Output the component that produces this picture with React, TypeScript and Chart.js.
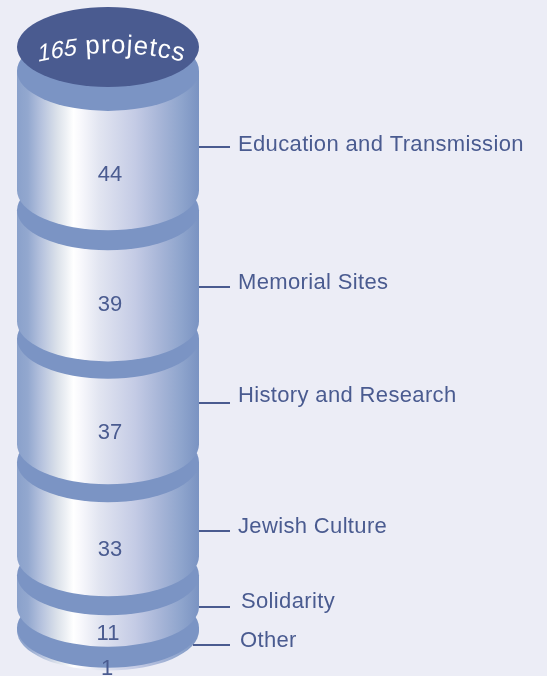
import React, { useEffect, useRef } from "react";
import { Chart, registerables } from "chart.js";

Chart.register(...registerables);

const categories = ["Projects"];
const segmentLabels = ["Education and Transmission", "Memorial Sites", "History and Research", "Jewish Culture", "Solidarity", "Other"];
const segmentValues = [44, 39, 37, 33, 11, 1];
// spacer above each segment, in the same axis units (the visible rim between segments)
const rimValues = [36.8, 7.0, 6.1, 6.3, 6.7, 7.4];
const totalLabelNumber = "165";
const totalLabelWord = " projetcs";

const WIDTH = 547, HEIGHT = 676;
const PX_PER_UNIT = 2.85;
const RY = 40, RX = 91;
const BG = "#ecedf6", TEXT = "#4a5b90", RIM = "#7b94c4", CAP = "#4a5b90";
const FONT = '"Liberation Sans", Arial, sans-serif';

const labelLayout = [
  { x: 238, y: 145, lineY: 147, lineX: 199 },
  { x: 238, y: 283, lineY: 287, lineX: 199 },
  { x: 238, y: 396, lineY: 403, lineX: 199 },
  { x: 238, y: 527, lineY: 531, lineX: 199 },
  { x: 241, y: 602, lineY: 607, lineX: 199 },
  { x: 240, y: 641, lineY: 645, lineX: 193 },
];
const valueLayout = [175, 305, 433, 550, 634, 669];
const valueX = [110, 110, 110, 110, 108, 107];
const firstRimDrop = 6;
const capCenterY = 47;

function sideGradient(ctx: CanvasRenderingContext2D, left: number, w: number) {
  const g = ctx.createLinearGradient(left, 0, left + w, 0);
  const stops: [number, string][] = [
    [0, "#8aa1cb"], [0.06, "#93a8cf"], [0.13, "#b4c1dd"], [0.22, "#dbe1ea"], [0.27, "#eef1f5"],
    [0.31, "#ffffff"], [0.35, "#f8f8fc"], [0.45, "#e2e5f1"], [0.65, "#c4cbe5"], [0.8, "#a4b3d6"],
    [0.9, "#8fa5cd"], [1, "#7a93c2"],
  ];
  stops.forEach(([o, c]) => g.addColorStop(o, c));
  return g;
}

const cylinderPlugin = {
  id: "cylinder",
  beforeDatasetDraw(chart: any, args: any) {
    const ds = chart.data.datasets[args.index];
    if (ds.rim) return false;
    const ctx: CanvasRenderingContext2D = chart.ctx;
    const el = args.meta.data[0];
    const cx = el.x;
    const rx = el.width / 2;
    const top = Math.min(el.y, el.base) + (args.index === 1 ? firstRimDrop : 0);
    const bottom = Math.max(el.y, el.base);
    const bandC = top - RY;
    const botC = bottom - RY;
    ctx.save();
    ctx.fillStyle = sideGradient(ctx, cx - rx, rx * 2);
    ctx.beginPath();
    ctx.moveTo(cx - rx, bandC);
    ctx.lineTo(cx + rx, bandC);
    ctx.lineTo(cx + rx, botC);
    ctx.ellipse(cx, botC, rx, RY, 0, 0, Math.PI);
    ctx.closePath();
    ctx.fill();
    ctx.fillStyle = RIM;
    ctx.beginPath();
    ctx.ellipse(cx, bandC, rx, RY, 0, 0, Math.PI * 2);
    ctx.fill();
    ctx.restore();
    return false;
  },
  afterDatasetsDraw(chart: any) {
    const ctx: CanvasRenderingContext2D = chart.ctx;
    const first = chart.getDatasetMeta(1).data[0];
    const cx = first.x;
    const rx = first.width / 2;
    ctx.save();
    // top cap
    ctx.fillStyle = CAP;
    ctx.beginPath();
    ctx.ellipse(cx, capCenterY, rx, RY, 0, 0, Math.PI * 2);
    ctx.fill();
    // curved title
    const R = 300;
    const ccx = 111, ccy = 46 + R;
    const italic = `italic 23.5px ${FONT}`;
    const normal = `26px ${FONT}`;
    const chars: { c: string; f: string; w: number; skew: number }[] = [];
    let total = 0;
    for (const c of totalLabelNumber) { ctx.font = italic; const w = ctx.measureText(c).width; chars.push({ c, f: italic, w, skew: -0.12 }); total += w; }
    for (const c of totalLabelWord) { ctx.font = normal; const w = ctx.measureText(c).width + 1; chars.push({ c, f: normal, w, skew: 0 }); total += w; }
    let pos = -total / 2;
    ctx.fillStyle = "#ffffff";
    ctx.textAlign = "center";
    ctx.textBaseline = "alphabetic";
    for (const ch of chars) {
      const a = (pos + ch.w / 2) / R;
      ctx.save();
      ctx.translate(ccx + R * Math.sin(a), ccy - R * Math.cos(a) + 7);
      ctx.rotate(a);
      ctx.transform(1, 0, ch.skew, 1, 0, 0);
      ctx.font = ch.f;
      ctx.fillText(ch.c, 0, 0);
      ctx.restore();
      pos += ch.w;
    }
    // values
    ctx.fillStyle = TEXT;
    ctx.font = `22px ${FONT}`;
    ctx.textAlign = "center";
    ctx.textBaseline = "middle";
    segmentValues.forEach((v, i) => ctx.fillText(String(v), valueX[i], valueLayout[i]));
    // leaders and labels
    ctx.textAlign = "left";
    (ctx as any).letterSpacing = "0.35px";
    ctx.strokeStyle = TEXT;
    ctx.lineWidth = 2;
    segmentLabels.forEach((t, i) => {
      const l = labelLayout[i];
      ctx.beginPath();
      ctx.moveTo(l.lineX, l.lineY);
      ctx.lineTo(230, l.lineY);
      ctx.stroke();
      ctx.fillText(t, l.x, l.y);
    });
    ctx.restore();
  },
};

export default function App() {
  const ref = useRef<HTMLCanvasElement>(null);
  useEffect(() => {
    document.body.style.margin = "0";
    document.body.style.background = BG;
    const datasets: any[] = [];
    segmentValues.forEach((v, i) => {
      datasets.push({ label: "rim", rim: true, data: [rimValues[i]], backgroundColor: "transparent", barThickness: RX * 2 });
      datasets.push({ label: segmentLabels[i], data: [v], backgroundColor: RIM, barThickness: RX * 2 });
    });
    const chart = new Chart(ref.current!, {
      type: "bar",
      data: { labels: categories, datasets },
      options: {
        animation: false,
        responsive: false,
        layout: { padding: { left: 0, top: 0, bottom: 0, right: WIDTH - 216 } },
        plugins: { legend: { display: false }, tooltip: { enabled: false } },
        scales: {
          x: { stacked: true, display: false },
          y: { stacked: true, display: false, reverse: true, min: 0, max: HEIGHT / PX_PER_UNIT },
        },
      },
      plugins: [cylinderPlugin],
    } as any);
    return () => chart.destroy();
  }, []);
  return <canvas ref={ref} width={WIDTH} height={HEIGHT} style={{ display: "block", background: BG }} />;
}
